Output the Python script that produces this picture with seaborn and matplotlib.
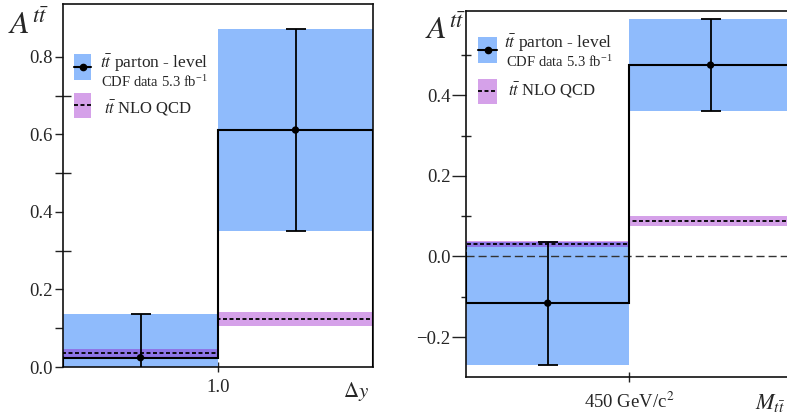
import numpy as np
import pandas as pd
import matplotlib
matplotlib.use("Agg")
import matplotlib.pyplot as plt
import seaborn as sns
from matplotlib.patches import Rectangle
from matplotlib.lines import Line2D

# ---------------- data ----------------
dy_edges = [0.0, 1.0, 2.0]
dy_data = [0.024, 0.611]
dy_err = [0.113, 0.260]
dy_nlo = [0.036, 0.123]
dy_nlo_err = [0.010, 0.018]

m_edges = [350.0, 450.0, 550.0]
m_data = [-0.116, 0.475]
m_err = [0.153, 0.114]
m_nlo = [0.030, 0.088]
m_nlo_err = [0.0075, 0.012]

dy_yticks = [0.0, 0.2, 0.4, 0.6, 0.8]
dy_yminor = [0.1, 0.3, 0.5, 0.7]
m_yticks = [-0.2, 0.0, 0.2, 0.4]
m_yminor = [-0.1, 0.1, 0.3, 0.5]
dy_xtick = [1.0]
dy_xticklabel = ["1.0"]
m_xtick = [450.0]
m_xticklabel = ["450 GeV/c$^2$"]

legend_data = r"$t\bar{t}$ parton - level"
legend_data2 = r"CDF data 5.3 fb$^{\mathregular{-1}}$"
legend_nlo = r"$t\bar{t}$ NLO QCD"

# ---------------- style ----------------
sns.set_style("ticks")
plt.rcParams["font.family"] = ["Liberation Serif", "DejaVu Serif"]
plt.rcParams["mathtext.fontset"] = "stix"
plt.rcParams["axes.unicode_minus"] = True

BLUE = "#8fbbfc"
PURPLE = "#8d00c4"
PALPHA = 0.37

W, H = 787, 415
fig = plt.figure(figsize=(W / 100, H / 100), dpi=100)


def fx(x):
    return x / W


def fy(y):
    return 1 - y / H


def panel(rect, edges, data, err, nlo, nlo_err, ylim, majors, minors,
          xtick, xticklabel, maj_len, maj_dir, min_len, xpad, zero_line=False):
    ax = fig.add_axes(rect)
    edges = np.asarray(edges)
    data = np.asarray(data)
    err = np.asarray(err)
    nlo = np.asarray(nlo)
    nlo_err = np.asarray(nlo_err)
    centers = (edges[:-1] + edges[1:]) / 2
    widths = np.diff(edges)
    ax.bar(edges[:-1], 2 * err, bottom=data - err, width=widths, align="edge",
           color=BLUE, lw=0, zorder=1)
    ax.bar(edges[:-1], 2 * nlo_err, bottom=nlo - nlo_err, width=widths,
           align="edge", color=PURPLE, alpha=PALPHA, lw=0, zorder=2)
    if zero_line:
        ax.axhline(0, color="#333333", lw=1.0, ls=(0, (5.8, 2.9)), zorder=2.5)
    ax.stairs(nlo, edges, color="black", lw=1.3, ls=(0, (2.2, 1.4)), zorder=3)
    ax.stairs(data, edges, color="black", lw=1.5, zorder=4)
    ax.errorbar(centers, data, yerr=err, fmt="none", ecolor="black",
                elinewidth=1.3, capsize=7.5, capthick=1.3, zorder=5)
    df = pd.DataFrame({"x": centers, "y": data})
    sns.scatterplot(data=df, x="x", y="y", ax=ax, color="black", s=28,
                    edgecolor="none", zorder=6)
    ax.set_xlim(edges[0], edges[-1])
    ax.set_ylim(*ylim)
    ax.set_xlabel("")
    ax.set_ylabel("")
    ax.set_yticks(majors)
    ax.set_yticklabels([f"{v:.1f}".replace("-", "\u2212") for v in majors])
    ax.set_yticks(minors, minor=True)
    ax.set_xticks(xtick)
    ax.set_xticklabels(xticklabel)
    ax.tick_params(axis="y", which="major", direction=maj_dir, length=maj_len,
                   width=1.0, labelsize=13.5, pad=1.5, color="#222222")
    ax.tick_params(axis="y", which="minor", direction="inout", length=min_len,
                   width=1.0, color="#222222")
    ax.tick_params(axis="x", which="major", direction="inout", length=7.5,
                   width=1.0, labelsize=13.5, pad=xpad, color="#222222")
    for s in ax.spines.values():
        s.set_visible(True)
        s.set_linewidth(1.2)
        s.set_color("#111111")
    ax.set_facecolor("white")
    return ax


ax1 = panel([fx(63), fy(367), fx(373) - fx(63), fy(4) - fy(367)],
            dy_edges, dy_data, dy_err, dy_nlo, dy_nlo_err, (0.0, 0.936),
            dy_yticks, dy_yminor, dy_xtick, dy_xticklabel,
            maj_len=6, maj_dir="out", min_len=11, xpad=5)

ax2 = panel([fx(466.3), fy(377.3), fx(792) - fx(466.3), fy(10.7) - fy(377.3)],
            m_edges, m_data, m_err, m_nlo, m_nlo_err, (-0.30, 0.61),
            m_yticks, m_yminor, m_xtick, m_xticklabel,
            maj_len=10, maj_dir="out", min_len=6.5, xpad=6.5, zero_line=True)


# ---------------- legends (drawn in figure pixels) ----------------
def legend(x0, x1, by0, by1, ly, py0, py1, dly, tx1, ty1, tx2, ty2, tx3, ty3):
    fig.add_artist(Rectangle((fx(x0), fy(by1)), fx(x1) - fx(x0), fy(by0) - fy(by1),
                             transform=fig.transFigure, color=BLUE, lw=0))
    fig.add_artist(Line2D([fx(x0), fx(x1)], [fy(ly), fy(ly)],
                          transform=fig.transFigure, color="black", lw=1.5))
    fig.add_artist(Line2D([fx((x0 + x1) / 2)], [fy(ly)], transform=fig.transFigure,
                          color="black", marker="o", ms=4.5, lw=0))
    fig.add_artist(Rectangle((fx(x0), fy(py1)), fx(x1) - fx(x0), fy(py0) - fy(py1),
                             transform=fig.transFigure, color=PURPLE,
                             alpha=PALPHA, lw=0))
    fig.add_artist(Line2D([fx(x0), fx(x1)], [fy(dly), fy(dly)],
                          transform=fig.transFigure, color="black", lw=1.3,
                          ls=(0, (2.2, 1.4))))
    fig.text(fx(tx1), fy(ty1), legend_data, fontsize=12.5, ha="left", va="center")
    fig.text(fx(tx2), fy(ty2), legend_data2, fontsize=10.5, ha="left", va="center")
    fig.text(fx(tx3), fy(ty3), legend_nlo, fontsize=12, ha="left", va="center")


legend(74, 91, 54, 80, 67, 93, 118, 105, 100, 63.5, 101, 81.5, 104, 108)
legend(478, 497, 37, 63, 50, 79, 104, 91, 504, 43.5, 506, 61.5, 508, 90)

# ---------------- axis titles ----------------
fig.text(fx(8), fy(34), r"$A^{t\bar{t}}$", fontsize=23, ha="left", va="baseline")
fig.text(fx(425), fy(39), r"$A^{t\bar{t}}$", fontsize=23, ha="left", va="baseline")
fig.text(fx(356), fy(391), r"$\Delta y$", fontsize=15, ha="center", va="center")
fig.text(fx(755), fy(403), r"$M_{t\bar{t}}$", fontsize=16, ha="left", va="center")

fig.savefig("out.png", dpi=100)
